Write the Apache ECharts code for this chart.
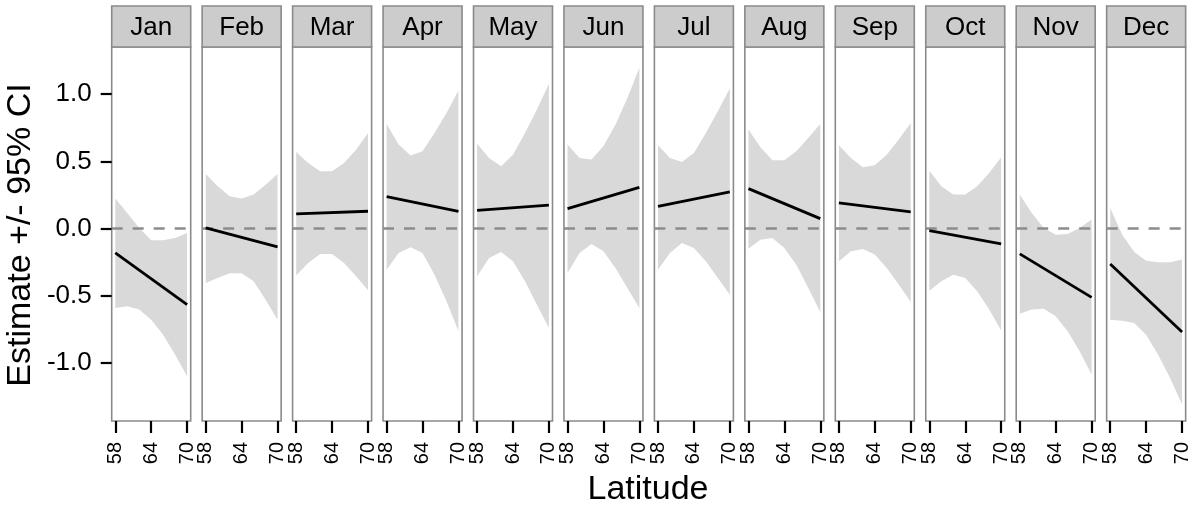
<!DOCTYPE html>
<html>
<head>
<meta charset="utf-8">
<script src="https://cdn.jsdelivr.net/npm/echarts@6/dist/echarts.min.js"></script>
<style>
html, body { margin: 0; background: #fff; }
#chart { width: 1192px; height: 506px; }
</style>
</head>
<body>
<div id="chart"></div>
<script>
const months = ['Jan', 'Feb', 'Mar', 'Apr', 'May', 'Jun', 'Jul', 'Aug', 'Sep', 'Oct', 'Nov', 'Dec']
const lat = [58, 60, 62, 64, 66, 68, 70]
// upper / lower 95% CI at each latitude, one row per month
const upper = [
    [0.223, 0.116, 0.005, -0.087, -0.087, -0.069, -0.032],
    [0.406, 0.315, 0.240, 0.223, 0.253, 0.327, 0.406],
    [0.570, 0.488, 0.426, 0.426, 0.488, 0.587, 0.711],
    [0.778, 0.625, 0.543, 0.575, 0.711, 0.860, 1.026],
    [0.630, 0.525, 0.463, 0.550, 0.711, 0.885, 1.076],
    [0.625, 0.525, 0.513, 0.612, 0.773, 0.971, 1.195],
    [0.620, 0.525, 0.496, 0.563, 0.711, 0.872, 1.041],
    [0.736, 0.605, 0.508, 0.508, 0.575, 0.674, 0.778],
    [0.620, 0.525, 0.456, 0.471, 0.550, 0.662, 0.786],
    [0.431, 0.315, 0.253, 0.253, 0.315, 0.414, 0.530],
    [0.253, 0.117, 0.005, -0.045, -0.040, 0.005, 0.067],
    [0.154, -0.045, -0.174, -0.238, -0.250, -0.250, -0.230]
]
const lower = [
    [-0.590, -0.577, -0.602, -0.677, -0.788, -0.937, -1.098],
    [-0.404, -0.367, -0.332, -0.332, -0.392, -0.528, -0.677],
    [-0.349, -0.255, -0.188, -0.188, -0.255, -0.354, -0.458],
    [-0.305, -0.181, -0.139, -0.181, -0.342, -0.540, -0.763],
    [-0.354, -0.218, -0.173, -0.243, -0.392, -0.565, -0.739],
    [-0.330, -0.181, -0.114, -0.169, -0.292, -0.441, -0.590],
    [-0.305, -0.181, -0.107, -0.144, -0.243, -0.367, -0.491],
    [-0.149, -0.082, -0.069, -0.144, -0.268, -0.441, -0.620],
    [-0.243, -0.169, -0.151, -0.193, -0.292, -0.416, -0.545],
    [-0.461, -0.392, -0.342, -0.367, -0.466, -0.602, -0.758],
    [-0.632, -0.602, -0.595, -0.652, -0.763, -0.912, -1.085],
    [-0.677, -0.684, -0.701, -0.788, -0.937, -1.110, -1.308]
]
const estLat = [58, 70]
const estimate = [
    [-0.181, -0.565],
    [0.005, -0.136],
    [0.109, 0.129],
    [0.238, 0.129],
    [0.136, 0.174],
    [0.149, 0.307],
    [0.166, 0.273],
    [0.297, 0.074],
    [0.191, 0.124],
    [-0.015, -0.114],
    [-0.188, -0.511],
    [-0.263, -0.768]
]
const xTicks = [58, 64, 70]
const yTicks = [-1, -0.5, 0, 0.5, 1]

const chart = echarts.init(document.getElementById('chart'))
const font = '"Liberation Sans", Arial, sans-serif'
const left0 = 111.7, pitch = 90.45, panelW = 79
const panelTop = 47, panelH = 374
const stripTop = 6

// whole ribbon drawn as one polygon from the first item
function renderBand(params, api) {
    if (params.dataIndexInside !== 0) return null
    const n = params.dataInsideLength
    let lo = [], hi = []
    for (let k = 0; k < n; k++) {
        lo.push(api.coord([api.value(0, k), api.value(1, k)]))
        hi.push(api.coord([api.value(0, k), api.value(2, k)]))
    }
    return {
        type: 'polygon',
        shape: { points: lo.concat(hi.reverse()) },
        style: { fill: '#d9d9d9' }
    }
}

let grid = [], xAxis = [], yAxis = [], series = [], graphic = []

months.forEach(function (m, i) {
    const left = left0 + i * pitch
    grid.push({
        left: left, top: panelTop, width: panelW, height: panelH,
        show: true, backgroundColor: '#fff',
        borderColor: '#8a8a8a', borderWidth: 1.6,
        outerBoundsMode: 'none', containLabel: false
    })
    xAxis.push({
        type: 'value', gridIndex: i, min: 57.4, max: 70.6, position: 'bottom',
        axisLine: { show: false, onZero: false },
        splitLine: { show: false },
        axisTick: { show: true, length: 12, customValues: xTicks, lineStyle: { color: '#000', width: 2.2 } },
        axisLabel: {
            show: true, customValues: xTicks, rotate: 90, margin: 21,
            fontSize: 20, fontFamily: font, color: '#000'
        }
    })
    yAxis.push({
        type: 'value', gridIndex: i, min: -1.43, max: 1.35, position: 'left',
        axisLine: { show: false, onZero: false },
        splitLine: { show: false },
        axisTick: { show: i === 0, length: 11, customValues: yTicks, lineStyle: { color: '#000', width: 2.2 } },
        axisLabel: {
            show: i === 0, customValues: yTicks, margin: 20,
            fontSize: 26, fontFamily: font, color: '#000',
            formatter: function (v) { return v.toFixed(1) }
        }
    })
    series.push({
        type: 'custom', xAxisIndex: i, yAxisIndex: i,
        renderItem: renderBand,
        encode: { x: 0, y: [1, 2] },
        data: lat.map(function (x, j) { return [x, lower[i][j], upper[i][j]] }),
        silent: true, z: 2
    })
    series.push({
        type: 'line', xAxisIndex: i, yAxisIndex: i,
        data: estLat.map(function (x, k) { return [x, estimate[i][k]] }),
        symbol: 'none', lineStyle: { color: '#000', width: 2.8 },
        silent: true, z: 4,
        markLine: {
            silent: true, symbol: 'none', label: { show: false },
            lineStyle: { color: '#8c8c8c', type: [11, 10], width: 2.5 },
            data: [{ yAxis: 0 }],
            z: 3
        }
    })
    graphic.push({
        type: 'rect',
        shape: { x: left, y: stripTop, width: panelW, height: panelTop - stripTop },
        style: { fill: '#cccccc', stroke: '#8a8a8a', lineWidth: 1.6 }
    })
    graphic.push({
        type: 'text', x: left + panelW / 2, y: (stripTop + panelTop) / 2 + 1,
        style: { text: m, align: 'center', verticalAlign: 'middle', fontSize: 26, fontFamily: font, fill: '#000' }
    })
})

graphic.push({
    type: 'text', x: 21, y: 235, rotation: Math.PI / 2,
    style: { text: 'Estimate +/- 95% CI', align: 'center', verticalAlign: 'middle', fontSize: 34, fontFamily: font, fill: '#000' }
})
graphic.push({
    type: 'text', x: 648, y: 490,
    style: { text: 'Latitude', align: 'center', verticalAlign: 'middle', fontSize: 34, fontFamily: font, fill: '#000' }
})

chart.setOption({
    animation: false,
    backgroundColor: '#fff',
    grid: grid,
    xAxis: xAxis,
    yAxis: yAxis,
    series: series,
    graphic: graphic
})
</script>
</body>
</html>
